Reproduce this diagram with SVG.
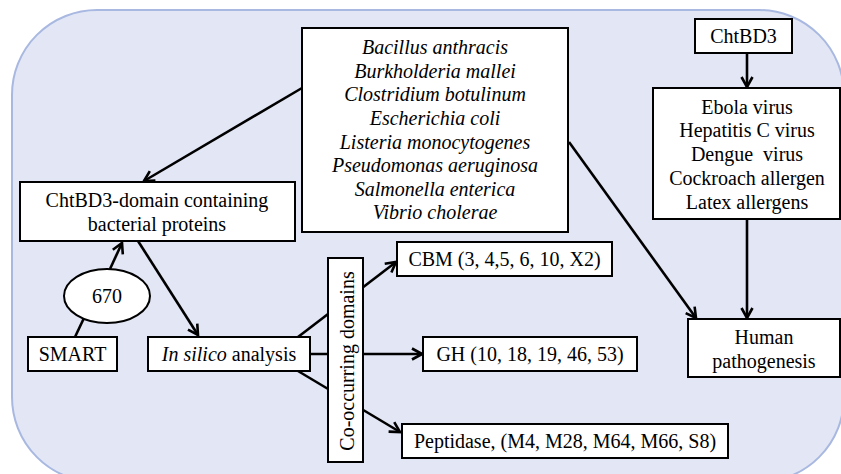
<svg xmlns="http://www.w3.org/2000/svg" width="841" height="474" viewBox="0 0 841 474">
<style>
.box{fill:#fff;stroke:#000;stroke-width:2}
.t{font-family:"Liberation Serif","Times New Roman",Times,"DejaVu Serif",serif;font-size:20px;fill:#000;text-anchor:middle}
.i{font-style:italic}
.c{stroke:#000;stroke-width:2.6;fill:none}
</style>
<defs>
<marker id="arr" viewBox="0 0 14 14" refX="12" refY="7" markerWidth="14" markerHeight="14" markerUnits="userSpaceOnUse" orient="auto">
<path d="M2,1.5 L12,7 L2,12.5" fill="none" stroke="#000" stroke-width="2.6"/>
</marker>
</defs>
<rect x="12" y="10" width="832" height="472" rx="85" ry="85" fill="#e3e7f5" stroke="#a8b8e0" stroke-width="2"/>
<g id="connectors">
<line class="c" x1="302" y1="88" x2="144" y2="181" marker-end="url(#arr)"/>
<line class="c" x1="75" y1="337" x2="84" y2="318"/>
<line class="c" x1="110" y1="269" x2="122" y2="243" marker-end="url(#arr)"/>
<line class="c" x1="138" y1="241" x2="198" y2="335" marker-end="url(#arr)"/>
<line class="c" x1="298" y1="337" x2="396" y2="262" marker-end="url(#arr)"/>
<line class="c" x1="310" y1="354" x2="422" y2="354" marker-end="url(#arr)"/>
<line class="c" x1="298" y1="371" x2="400" y2="432" marker-end="url(#arr)"/>
<line class="c" x1="569" y1="142" x2="696" y2="318" marker-end="url(#arr)"/>
<line class="c" x1="747" y1="53" x2="747" y2="87" marker-end="url(#arr)"/>
<line class="c" x1="747" y1="219" x2="747" y2="318" marker-end="url(#arr)"/>
</g>
<g id="bacteria">
<rect class="box" x="302" y="28" width="266" height="204"/>
<text class="t i" x="435" y="54">Bacillus anthracis</text>
<text class="t i" x="435" y="78">Burkholderia mallei</text>
<text class="t i" x="435" y="101">Clostridium botulinum</text>
<text class="t i" x="435" y="125">Escherichia coli</text>
<text class="t i" x="435" y="149">Listeria monocytogenes</text>
<text class="t i" x="435" y="172">Pseudomonas aeruginosa</text>
<text class="t i" x="435" y="196">Salmonella enterica</text>
<text class="t i" x="435" y="219">Vibrio cholerae</text>
</g>
<g id="chtbd3-domain">
<rect class="box" x="20" y="182" width="275" height="59"/>
<text class="t" x="157" y="207">ChtBD3-domain containing</text>
<text class="t" x="157" y="231">bacterial proteins</text>
</g>
<g id="n670">
<ellipse cx="107" cy="296" rx="43" ry="27" fill="#fff" stroke="#000" stroke-width="2"/>
<text class="t" x="107" y="303">670</text>
</g>
<g id="smart">
<rect class="box" x="28" y="337" width="89" height="34"/>
<text class="t" x="72.5" y="361">SMART</text>
</g>
<g id="insilico">
<rect class="box" x="148" y="337" width="162" height="34"/>
<text class="t" x="229" y="361"><tspan class="i">In silico</tspan> analysis</text>
</g>
<g id="cooccurring">
<rect class="box" x="328" y="258" width="35" height="204"/>
<text class="t" transform="translate(354,361) rotate(-90)">Co-occurring domains</text>
</g>
<g id="cbm">
<rect class="box" x="397" y="242" width="215" height="34"/>
<text class="t" x="504.5" y="266">CBM (3, 4,5, 6, 10, X2)</text>
</g>
<g id="gh">
<rect class="box" x="423" y="337" width="214" height="34"/>
<text class="t" x="530" y="361">GH (10, 18, 19, 46, 53)</text>
</g>
<g id="peptidase">
<rect class="box" x="402" y="424" width="326" height="34"/>
<text class="t" x="565" y="448">Peptidase, (M4, M28, M64, M66, S8)</text>
</g>
<g id="chtbd3">
<rect class="box" x="695" y="19" width="97" height="34"/>
<text class="t" x="743.5" y="43">ChtBD3</text>
</g>
<g id="viruses">
<rect class="box" x="653" y="88" width="187" height="131"/>
<text class="t" x="747" y="114">Ebola virus</text>
<text class="t" x="747" y="137">Hepatitis C virus</text>
<text class="t" x="747" y="161" xml:space="preserve" style="white-space:pre">Dengue  virus</text>
<text class="t" x="747" y="185">Cockroach allergen</text>
<text class="t" x="747" y="209">Latex allergens</text>
</g>
<g id="human">
<rect class="box" x="688" y="319" width="152" height="58"/>
<text class="t" x="764" y="344">Human</text>
<text class="t" x="764" y="368">pathogenesis</text>
</g>
</svg>
